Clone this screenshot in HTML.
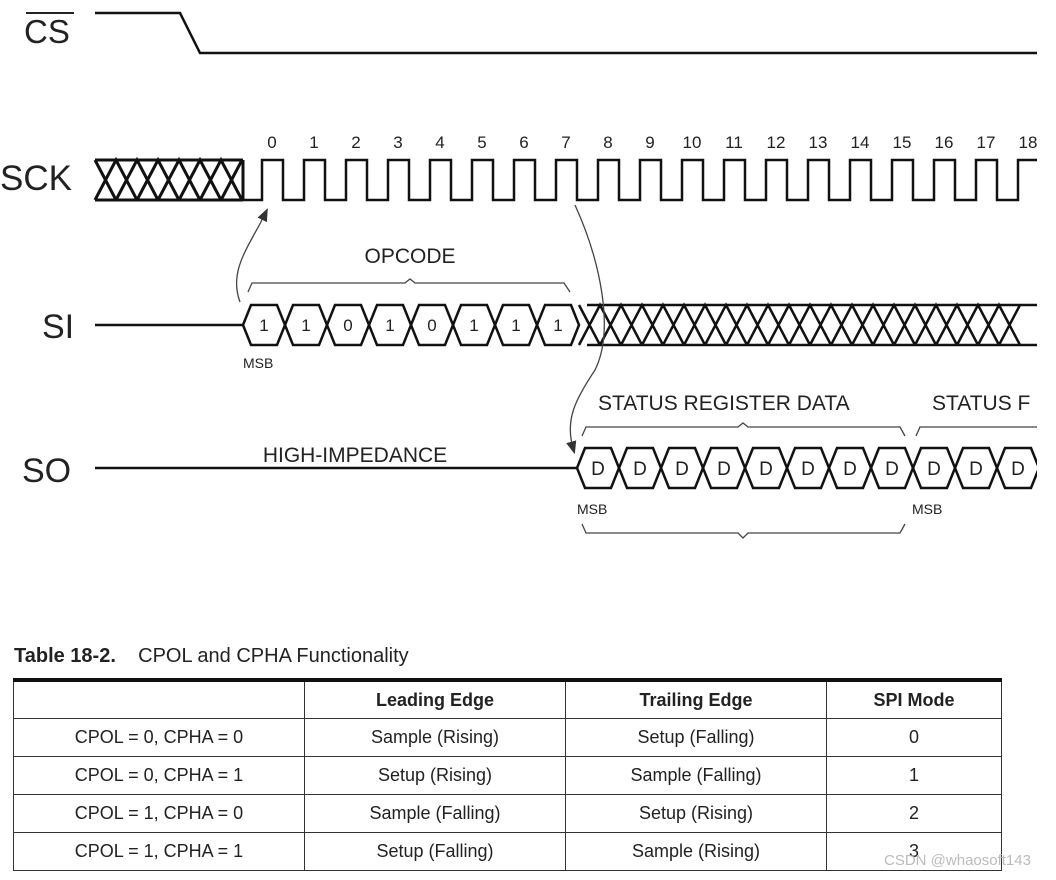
<!DOCTYPE html>
<html><head><meta charset="utf-8"><style>
body{margin:0;width:1056px;height:880px;background:#fff;position:relative;overflow:hidden;font-family:"Liberation Sans",sans-serif;color:#222}
svg{position:absolute;left:0;top:0}
.title{position:absolute;left:14px;top:645px;font-size:20px;color:#222}
table{position:absolute;left:13px;top:678px;width:989px;border-collapse:collapse;font-size:18px;border-top:4px solid #111}
td,th{border:1px solid #333;text-align:center;height:37px;padding:0;color:#222}
th{font-weight:bold;height:36px}
.wm{position:absolute;left:884px;top:852px;font-size:15px;color:#bbb}
</style></head><body>
<svg width="1056" height="640" viewBox="0 0 1056 640">
<defs>
<clipPath id="c"><rect x="0" y="0" width="1037" height="640"/></clipPath>
<path id="h" d="M0 0 l8 -20 h26 l8 20 l-8 20 h-26 z" fill="none" stroke="#111" stroke-width="2.5"/>
<marker id="a" markerWidth="10" markerHeight="10" refX="5" refY="5" orient="auto"><path d="M0 1 L10 5 L0 9 z" fill="#333"/></marker>
</defs>
<g clip-path="url(#c)" fill="none" stroke="#111" stroke-width="2.5">
<path d="M95 13 H180 L200 53 H1040"/>
<path d="M243 200 H262 v-40 h21 v40 h21 v-40 h21 v40 h21 v-40 h21 v40 h21 v-40 h21 v40 h21 v-40 h21 v40 h21 v-40 h21 v40 h21 v-40 h21 v40 h21 v-40 h21 v40 h21 v-40 h21 v40 h21 v-40 h21 v40 h21 v-40 h21 v40 h21 v-40 h21 v40 h21 v-40 h21 v40 h21 v-40 h21 v40 h21 v-40 h21 v40 h21 v-40 h21 v40 h21 v-40 h21 v40 h21 v-40 h21 v40 h21 v-40 h21 v40 h21"/>
<path d="M95 160 H243 M95 200 H243 M95 160 l21 40 m-21 0 l21 -40 l21 40 m-21 0 l21 -40 l21 40 m-21 0 l21 -40 l21 40 m-21 0 l21 -40 l21 40 m-21 0 l21 -40 l21 40 m-21 0 l21 -40 l21 40 m-21 0 l21 -40 M243 160 V200" stroke-width="3"/>
<path d="M95 325 H243"/>
<use href="#h" x="243" y="325"/><use href="#h" x="285" y="325"/><use href="#h" x="327" y="325"/><use href="#h" x="369" y="325"/><use href="#h" x="411" y="325"/><use href="#h" x="453" y="325"/><use href="#h" x="495" y="325"/><use href="#h" x="537" y="325"/>
<path d="M587 305 H1040 M587 345 H1040 M579 305 l21 40 m-21 0 l21 -40 l21 40 m-21 0 l21 -40 l21 40 m-21 0 l21 -40 l21 40 m-21 0 l21 -40 l21 40 m-21 0 l21 -40 l21 40 m-21 0 l21 -40 l21 40 m-21 0 l21 -40 l21 40 m-21 0 l21 -40 l21 40 m-21 0 l21 -40 l21 40 m-21 0 l21 -40 l21 40 m-21 0 l21 -40 l21 40 m-21 0 l21 -40 l21 40 m-21 0 l21 -40 l21 40 m-21 0 l21 -40 l21 40 m-21 0 l21 -40 l21 40 m-21 0 l21 -40 l21 40 m-21 0 l21 -40 l21 40 m-21 0 l21 -40 l21 40 m-21 0 l21 -40 l21 40 m-21 0 l21 -40 l21 40 m-21 0 l21 -40"/>
<path d="M95 468 H577"/>
<use href="#h" x="577" y="468"/><use href="#h" x="619" y="468"/><use href="#h" x="661" y="468"/><use href="#h" x="703" y="468"/><use href="#h" x="745" y="468"/><use href="#h" x="787" y="468"/><use href="#h" x="829" y="468"/><use href="#h" x="871" y="468"/><use href="#h" x="913" y="468"/><use href="#h" x="955" y="468"/><use href="#h" x="997" y="468"/>
<g stroke="#444" stroke-width="1.3">
<path d="M248 292 L252 283 H405 L410 279 L415 283 H564 L570 292"/>
<path d="M582 436 L586 427 H738 L743 423 L748 427 H900 L905 436"/>
<path d="M916 436 L920 427 H1040"/>
<path d="M582 524 L586 533 H738 L743 538 L748 533 H900 L905 524"/>
<path d="M240 302 C228 270 250 245 265 214" marker-end="url(#a)"/>
<path d="M575 205 C600 260 615 330 595 370 C575 400 565 420 573 448" marker-end="url(#a)"/>
</g>
</g>
<g font-family="Liberation Sans, sans-serif" fill="#222">
<text x="24" y="43" font-size="33">CS</text>
<path d="M26 13 H74" stroke="#222" stroke-width="2"/>
<text x="0" y="190" font-size="35">SCK</text>
<text x="42" y="338" font-size="34">SI</text>
<text x="22" y="482" font-size="34">SO</text>
<g font-size="17" text-anchor="middle">
<text x="272" y="148">0</text><text x="314" y="148">1</text><text x="356" y="148">2</text><text x="398" y="148">3</text><text x="440" y="148">4</text><text x="482" y="148">5</text><text x="524" y="148">6</text><text x="566" y="148">7</text><text x="608" y="148">8</text><text x="650" y="148">9</text><text x="692" y="148">10</text><text x="734" y="148">11</text><text x="776" y="148">12</text><text x="818" y="148">13</text><text x="860" y="148">14</text><text x="902" y="148">15</text><text x="944" y="148">16</text><text x="986" y="148">17</text><text x="1028" y="148">18</text>
</g>
<g font-size="17" text-anchor="middle">
<text x="264" y="331">1</text><text x="306" y="331">1</text><text x="348" y="331">0</text><text x="390" y="331">1</text><text x="432" y="331">0</text><text x="474" y="331">1</text><text x="516" y="331">1</text><text x="558" y="331">1</text>
</g>
<g font-size="19" text-anchor="middle">
<text x="598" y="475">D</text><text x="640" y="475">D</text><text x="682" y="475">D</text><text x="724" y="475">D</text><text x="766" y="475">D</text><text x="808" y="475">D</text><text x="850" y="475">D</text><text x="892" y="475">D</text><text x="934" y="475">D</text><text x="976" y="475">D</text><text x="1018" y="475">D</text>
</g>
<text x="410" y="263" font-size="21" text-anchor="middle">OPCODE</text>
<text x="355" y="462" font-size="21" text-anchor="middle">HIGH-IMPEDANCE</text>
<text x="598" y="410" font-size="21">STATUS REGISTER DATA</text>
<text x="932" y="410" font-size="21">STATUS F</text>
<rect x="1037" y="380" width="19" height="40" fill="#fff"/>
<g font-size="14"><text x="243" y="368">MSB</text><text x="577" y="514">MSB</text><text x="912" y="514">MSB</text></g>
</g>
</svg>
<div class="title"><b>Table 18-2.</b>&nbsp;&nbsp;&nbsp;&nbsp;CPOL and CPHA Functionality</div>
<table>
<tr><th style="width:290px"></th><th style="width:260px">Leading Edge</th><th style="width:260px">Trailing Edge</th><th>SPI Mode</th></tr>
<tr><td>CPOL = 0, CPHA = 0</td><td>Sample (Rising)</td><td>Setup (Falling)</td><td>0</td></tr>
<tr><td>CPOL = 0, CPHA = 1</td><td>Setup (Rising)</td><td>Sample (Falling)</td><td>1</td></tr>
<tr><td>CPOL = 1, CPHA = 0</td><td>Sample (Falling)</td><td>Setup (Rising)</td><td>2</td></tr>
<tr><td>CPOL = 1, CPHA = 1</td><td>Setup (Falling)</td><td>Sample (Rising)</td><td>3</td></tr>
</table>
<div class="wm">CSDN @whaosoft143</div>
</body></html>
